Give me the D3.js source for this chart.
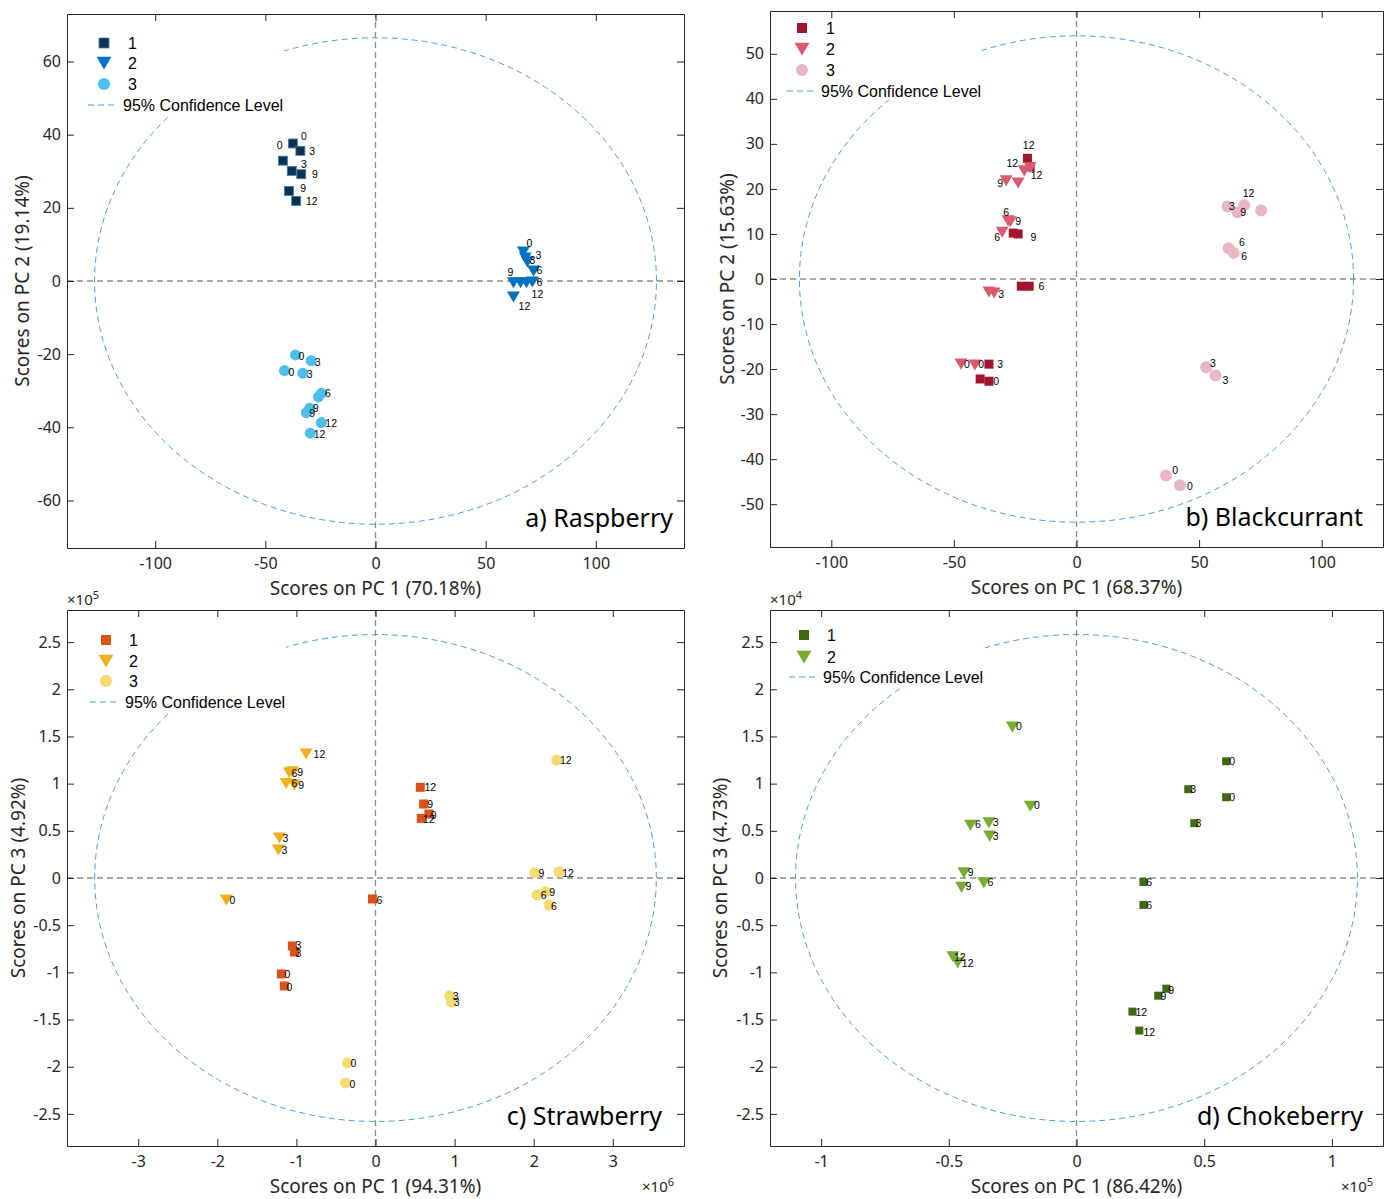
<!DOCTYPE html>
<html><head><meta charset="utf-8">
<script src="https://cdn.jsdelivr.net/npm/d3@7"></script>
<style>body{margin:0;background:#fff}svg{display:block}</style>
</head><body>
<svg id="chart" width="1387" height="1199"></svg>
<script>
// ---------- DATA: [x, y, label, labelX, labelY] in data units ----------
const raspS1 = [[-37.5,37.6,"0",-32.5,39.6],[-42.0,32.9,"0",-43.5,37.2],[-34.1,35.6,"3",-28.7,35.5],[-38.0,30.1,"3",-32.5,31.9],[-33.7,29.2,"9",-27.5,29.2],[-39.3,24.6,"9",-32.8,25.5],[-36.0,21.9,"12",-28.9,21.9]];
const raspS2 = [[67.1,7.9,"0",69.8,10.4],[68.0,6.3,"3",73.9,7.1],[68.9,5.2,"3",71.2,5.7],[71.7,2.7,"6",74.4,3.0],[62.6,-0.5,"9",61.2,2.5],[65.8,-0.5,"",0,0],[68.5,-0.5,"6",74.4,-0.3],[71.2,-0.3,"12",73.5,-3.6],[62.6,-4.4,"12",67.6,-6.8]];
const raspS3 = [[-36.3,-20.2,"0",-33.6,-20.5],[-29.2,-21.8,"3",-26.2,-22.2],[-41.3,-24.5,"0",-38.2,-24.8],[-33.0,-25.2,"3",-29.9,-25.4],[-24.6,-30.7,"6",-21.6,-30.7],[-25.9,-31.7,"",0,0],[-29.9,-34.8,"9",-27.2,-34.8],[-31.4,-36.0,"9",-28.7,-36.1],[-24.6,-38.7,"12",-20.1,-38.9],[-29.6,-41.6,"12",-25.4,-41.8]];

const blackS1 = [[-20.0,26.8,"12",-19.5,29.8],[-18.9,24.9,"12",-16.3,23.1],[-25.8,10.2,"",0,0],[-23.8,10.0,"9",-17.6,9.4],[-22.5,-1.6,"",0,0],[-19.3,-1.6,"6",-14.3,-1.6],[-35.7,-18.9,"3",-31.1,-18.9],[-39.3,-22.2,"",0,0],[-35.7,-22.7,"0",-32.8,-22.7]];
const blackS2 = [[-21.3,24.0,"12",-26.2,25.8],[-18.9,24.7,"",0,0],[-28.7,21.8,"9",-31.1,21.3],[-23.8,21.3,"",0,0],[-27.9,12.9,"6",-28.7,14.9],[-27.0,12.7,"9",-23.8,12.9],[-30.3,10.4,"6",-32.4,9.3],[-35.7,-2.9,"",0,0],[-33.6,-3.1,"3",-30.7,-3.3],[-47.1,-18.9,"0",-44.7,-18.9],[-41.4,-19.1,"0",-38.9,-18.9]];
const blackS3 = [[61.6,16.1,"3",63.4,16.2],[65.7,14.8,"9",68.0,14.9],[68.4,16.4,"12",70.2,19.2],[75.3,15.2,"",0,0],[62.0,6.8,"6",67.5,8.3],[64.1,5.8,"6",68.4,5.1],[52.9,-19.6,"3",55.6,-18.6],[56.7,-21.4,"3",60.7,-22.4],[36.5,-43.6,"0",40.2,-42.3],[42.2,-45.8,"0",46.3,-46.0]];

const strawS1 = [[0.566,0.961,"12",0.692,0.961],[0.608,0.784,"9",0.692,0.784],[0.578,0.632,"12",0.675,0.622],[0.675,0.678,"9",0.734,0.667],[-0.038,-0.222,"6",0.051,-0.233],[-1.051,-0.720,"3",-0.975,-0.710],[-1.025,-0.784,"3",-0.975,-0.794],[-1.190,-1.017,"0",-1.114,-1.017],[-1.152,-1.144,"0",-1.089,-1.155]];
const strawS2 = [[-0.877,1.314,"12",-0.709,1.314],[-1.089,1.115,"6",-1.025,1.109],[-1.047,1.126,"9",-0.953,1.126],[-1.130,1.002,"6",-1.025,1.002],[-1.025,0.985,"9",-0.941,0.985],[-1.215,0.424,"3",-1.139,0.424],[-1.228,0.297,"3",-1.152,0.297],[-1.886,-0.233,"0",-1.810,-0.233]];
const strawS3 = [[2.291,1.250,"12",2.405,1.250],[2.013,0.056,"9",2.097,0.056],[2.320,0.067,"12",2.434,0.056],[2.042,-0.180,"6",2.127,-0.180],[2.152,-0.145,"9",2.232,-0.145],[2.194,-0.286,"6",2.257,-0.297],[0.937,-1.250,"3",1.013,-1.250],[0.962,-1.314,"3",1.025,-1.314],[-0.354,-1.960,"0",-0.278,-1.960],[-0.380,-2.172,"0",-0.291,-2.182]];

const chokeS1 = [[0.586,1.237,"0",0.609,1.237],[0.586,0.856,"0",0.609,0.856],[0.4375,0.941,"3",0.457,0.941],[0.461,0.581,"3",0.477,0.581],[0.262,-0.042,"6",0.285,-0.042],[0.262,-0.285,"6",0.285,-0.285],[0.352,-1.173,"9",0.371,-1.184],[0.320,-1.247,"9",0.340,-1.247],[0.219,-1.416,"12",0.254,-1.416],[0.246,-1.617,"12",0.285,-1.628]];
const chokeS2 = [[-0.251,1.599,"0",-0.225,1.610],[-0.181,0.761,"0",-0.155,0.772],[-0.415,0.560,"6",-0.386,0.571],[-0.343,0.585,"3",-0.316,0.592],[-0.340,0.444,"3",-0.316,0.444],[-0.441,0.056,"9",-0.414,0.060],[-0.450,-0.098,"9",-0.423,-0.085],[-0.363,-0.050,"6",-0.337,-0.045],[-0.484,-0.835,"12",-0.457,-0.835],[-0.465,-0.899,"12",-0.426,-0.899]];

const seriesNames = ["1","2","3"];
const legendLine = "95% Confidence Level";
const ticksA = {x:[-100,-50,0,50,100], y:[-60,-40,-20,0,20,40,60]};
const ticksB = {x:[-100,-50,0,50,100], y:[-50,-40,-30,-20,-10,0,10,20,30,40,50]};
const ticksC = {x:[-3,-2,-1,0,1,2,3], y:[-2.5,-2,-1.5,-1,-0.5,0,0.5,1,1.5,2,2.5]};
const ticksD = {x:[-1,-0.5,0,0.5,1], y:[-2.5,-2,-1.5,-1,-0.5,0,0.5,1,1.5,2,2.5]};
const ellipses = {a:[127.5,66.5], b:[113,54], c:[3.55,2.58], d:[1.1,2.58]};

// ---------- LAYOUT ----------
const panels = [
 {id:"a", box:[67,684,14,548], xd:[-140,140], yd:[-73,73], ticks:ticksA, ell:ellipses.a,
  series:[{data:raspS1,shape:"sq",fill:"#0c3252",stroke:"#4a7ea6",size:9},{data:raspS2,shape:"tri",fill:"#0070c0",size:13},{data:raspS3,shape:"circ",fill:"#4dbeee",size:11}],
  xlab:"Scores on PC 1 (70.18%)", ylab:"Scores on PC 2 (19.14%)", title:"a) Raspberry",
  leg:{mx:104,tx:124,rows:[43,63,84,105],lx:[88,118],bg:[68,15,216,102]}, xexp:null, yexp:null, ylabX:22, titleX:673},
 {id:"b", box:[770,1383,11,547], xd:[-125,125], yd:[-59.5,59.5], ticks:ticksB, ell:ellipses.b,
  series:[{data:blackS1,shape:"sq",fill:"#a3142f",size:9},{data:blackS2,shape:"tri",fill:"#d95b6c",size:13},{data:blackS3,shape:"circ",fill:"#e9b7c3",size:12}],
  xlab:"Scores on PC 1 (68.37%)", ylab:"Scores on PC 2 (15.63%)", title:"b) Blackcurrant",
  leg:{mx:802,tx:822,rows:[28,49,70,91],lx:[787,816],bg:[771,12,209,88]}, xexp:null, yexp:null, ylabX:727, titleX:1363},
 {id:"c", box:[67,684,610,1146], xd:[-3.9,3.9], yd:[-2.84,2.84], ticks:ticksC, ell:ellipses.c,
  series:[{data:strawS1,shape:"sq",fill:"#d95319",size:9},{data:strawS2,shape:"tri",fill:"#edb120",size:13},{data:strawS3,shape:"circ",fill:"#f4db72",size:11}],
  xlab:"Scores on PC 1 (94.31%)", ylab:"Scores on PC 3 (4.92%)", title:"c) Strawberry",
  leg:{mx:106,tx:125,rows:[640,661,681,702],lx:[90,120],bg:[68,611,218,101]}, xexp:"6", yexp:"5", ylabX:18, titleX:662},
 {id:"d", box:[770,1383,610,1146], xd:[-1.2,1.2], yd:[-2.84,2.84], ticks:ticksD, ell:ellipses.d,
  series:[{data:chokeS1,shape:"sq",fill:"#3d6a12",size:8},{data:chokeS2,shape:"tri",fill:"#77ac30",size:13}],
  xlab:"Scores on PC 1 (86.42%)", ylab:"Scores on PC 3 (4.73%)", title:"d) Chokeberry",
  leg:{mx:804,tx:823,rows:[635,657,677],lx:[789,818],bg:[771,611,214,76]}, xexp:"5", yexp:"4", ylabX:720, titleX:1363}
];

const svg = d3.select("#chart");
const ARIAL = "Liberation Sans, Arial, sans-serif";
const SANS = "Noto Sans, Open Sans, sans-serif";
const fmt = d => String(d);

function marker(g, shape, x, y, s, fill, stroke) {
  let el;
  if (shape === "sq") {
    el = g.append("rect").attr("x", x - s/2).attr("y", y - s/2).attr("width", s).attr("height", s);
  } else if (shape === "tri") {
    const w = s, h = s*0.85;
    el = g.append("path").attr("d", `M${x-w/2},${y-h/2}L${x+w/2},${y-h/2}L${x},${y+h/2}Z`);
  } else {
    el = g.append("circle").attr("cx", x).attr("cy", y).attr("r", s/2);
  }
  el.attr("fill", fill);
  if (stroke) el.attr("stroke", stroke).attr("stroke-width", 0.8); else el.attr("stroke", "none");
  return el;
}

panels.forEach(p => {
  const [x0,x1,y0,y1] = p.box;
  const xs = d3.scaleLinear().domain(p.xd).range([x0,x1]);
  const ys = d3.scaleLinear().domain(p.yd).range([y1,y0]);
  const g = svg.append("g");

  // zero lines
  g.append("line").attr("x1",xs(p.xd[0])).attr("x2",xs(p.xd[1])).attr("y1",ys(0)).attr("y2",ys(0))
    .attr("stroke","#8c8c8c").attr("stroke-width",1.3).attr("stroke-dasharray","6,4");
  g.append("line").attr("y1",ys(p.yd[0])).attr("y2",ys(p.yd[1])).attr("x1",xs(0)).attr("x2",xs(0))
    .attr("stroke","#8c8c8c").attr("stroke-width",1.3).attr("stroke-dasharray","6,4");

  // ellipse
  const angles = d3.range(0, 361, 1).map(a => a*Math.PI/180);
  const ell = d3.line().x(a => xs(p.ell[0]*Math.cos(a))).y(a => ys(p.ell[1]*Math.sin(a)));
  g.append("path").attr("d", ell(angles)).attr("fill","none").attr("stroke","#4a9de0")
    .attr("stroke-width",1).attr("stroke-dasharray","6,4");

  // points
  p.series.forEach(s => {
    s.data.forEach(d => marker(g, s.shape, xs(d[0]), ys(d[1]), s.size, s.fill, s.stroke));
  });
  p.series.forEach(s => {
    s.data.filter(d => d[2] !== "").forEach(d => {
      g.append("text").attr("x", xs(d[3])).attr("y", ys(d[4])).attr("text-anchor","middle")
        .attr("dominant-baseline","central").attr("font-family",ARIAL).attr("font-size",10.5)
        .attr("fill","#000").text(d[2]);
    });
  });

  // legend
  const L = p.leg;
  g.append("rect").attr("x",L.bg[0]).attr("y",L.bg[1]).attr("width",L.bg[2]).attr("height",L.bg[3]).attr("fill","#fff");
  p.series.forEach((s,i) => {
    marker(g, s.shape, L.mx, L.rows[i], s.shape==="circ"?12:(s.shape==="tri"?15:10), s.fill, s.stroke);
    g.append("text").attr("x",L.tx+4).attr("y",L.rows[i]).attr("dominant-baseline","central")
      .attr("font-family",ARIAL).attr("font-size",16).attr("fill","#000").text(seriesNames[i]);
  });
  const lr = L.rows[p.series.length];
  g.append("line").attr("x1",L.lx[0]).attr("x2",L.lx[1]).attr("y1",lr).attr("y2",lr)
    .attr("stroke","#4a9de0").attr("stroke-width",1).attr("stroke-dasharray","6,4");
  g.append("text").attr("x",L.lx[1]+5).attr("y",lr).attr("dominant-baseline","central")
    .attr("font-family",ARIAL).attr("font-size",16).attr("fill","#000").text(legendLine);

  // axes (ticks inside, box)
  const ax = g.append("g");
  const bottom = ax.append("g").attr("transform",`translate(0,${y1})`)
    .call(d3.axisBottom(xs).tickValues(p.ticks.x).tickFormat(fmt).tickSizeInner(-7).tickSizeOuter(0).tickPadding(10));
  const left = ax.append("g").attr("transform",`translate(${x0},0)`)
    .call(d3.axisLeft(ys).tickValues(p.ticks.y).tickFormat(fmt).tickSizeInner(-7).tickSizeOuter(0).tickPadding(6));
  const top = ax.append("g").attr("transform",`translate(0,${y0})`)
    .call(d3.axisTop(xs).tickValues(p.ticks.x).tickFormat("").tickSizeInner(-7).tickSizeOuter(0));
  const right = ax.append("g").attr("transform",`translate(${x1},0)`)
    .call(d3.axisRight(ys).tickValues(p.ticks.y).tickFormat("").tickSizeInner(-7).tickSizeOuter(0));
  [bottom,left,top,right].forEach(a => {
    a.attr("font-family",SANS);
    a.selectAll("path").attr("stroke","#262626").attr("stroke-width",1);
    a.selectAll("line").attr("stroke","#262626").attr("stroke-width",1);
    a.selectAll("text").attr("font-size",16).attr("fill","#262626");
  });

  // exponents
  if (p.xexp) {
    const t = g.append("text").attr("x",x1-42).attr("y",y1+46).attr("font-family",SANS).attr("font-size",15).attr("fill","#262626");
    t.append("tspan").text("×10");
    t.append("tspan").attr("dy",-6).attr("font-size",11).text(p.xexp);
  }
  if (p.yexp) {
    const t = g.append("text").attr("x",x0).attr("y",y0-5).attr("font-family",SANS).attr("font-size",15).attr("fill","#262626");
    t.append("tspan").text("×10");
    t.append("tspan").attr("dy",-6).attr("font-size",11).text(p.yexp);
  }

  // axis labels
  g.append("text").attr("x",(x0+x1)/2).attr("y",y1+47).attr("text-anchor","middle")
    .attr("font-family",SANS).attr("font-size",19).attr("fill","#262626").text(p.xlab);
  g.append("text").attr("transform",`translate(${p.ylabX},${ys(0)}) rotate(-90)`).attr("text-anchor","middle")
    .attr("dominant-baseline","central").attr("font-family",SANS).attr("font-size",19)
    .attr("fill","#262626").text(p.ylab);

  // title
  g.append("text").attr("x",p.titleX).attr("y",y1-21).attr("text-anchor","end")
    .attr("font-family",SANS).attr("font-size",25).attr("fill","#000").text(p.title);
});
</script>
</body></html>
